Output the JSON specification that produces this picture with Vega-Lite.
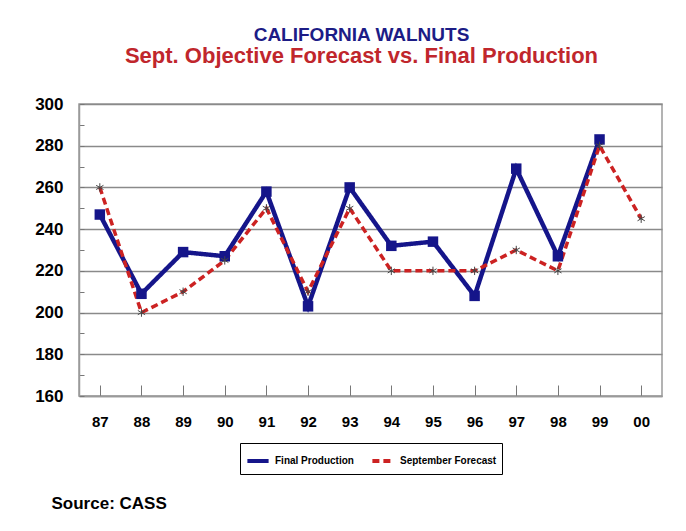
{
  "$schema": "https://vega.github.io/schema/vega-lite/v6.json",
  "width": 583,
  "height": 292,
  "autosize": "none",
  "padding": {"left": 79, "top": 104, "right": 24, "bottom": 135},
  "background": "white",
  "config": {
    "font": "Liberation Sans",
    "view": {"stroke": "#9a9a9a", "strokeWidth": 1.5}
  },
  "title": {
    "text": "CALIFORNIA WALNUTS",
    "subtitle": "Sept. Objective Forecast vs. Final Production",
    "font": "Liberation Sans",
    "fontSize": 19,
    "fontWeight": "bold",
    "color": "#1c1c86",
    "subtitleFont": "Liberation Sans",
    "subtitleFontSize": 22,
    "subtitleFontWeight": "bold",
    "subtitleColor": "#c0262c",
    "subtitlePadding": 1,
    "anchor": "middle",
    "dx": -9,
    "offset": 28
  },
  "data": {
    "values": [
      {"year": "87", "series": "Final Production", "value": 247},
      {"year": "88", "series": "Final Production", "value": 209},
      {"year": "89", "series": "Final Production", "value": 229},
      {"year": "90", "series": "Final Production", "value": 227},
      {"year": "91", "series": "Final Production", "value": 258},
      {"year": "92", "series": "Final Production", "value": 203},
      {"year": "93", "series": "Final Production", "value": 260},
      {"year": "94", "series": "Final Production", "value": 232},
      {"year": "95", "series": "Final Production", "value": 234},
      {"year": "96", "series": "Final Production", "value": 208},
      {"year": "97", "series": "Final Production", "value": 269},
      {"year": "98", "series": "Final Production", "value": 227},
      {"year": "99", "series": "Final Production", "value": 283},
      {"year": "87", "series": "September Forecast", "value": 260},
      {"year": "88", "series": "September Forecast", "value": 200},
      {"year": "89", "series": "September Forecast", "value": 210},
      {"year": "90", "series": "September Forecast", "value": 225},
      {"year": "91", "series": "September Forecast", "value": 250},
      {"year": "92", "series": "September Forecast", "value": 210},
      {"year": "93", "series": "September Forecast", "value": 250},
      {"year": "94", "series": "September Forecast", "value": 220},
      {"year": "95", "series": "September Forecast", "value": 220},
      {"year": "96", "series": "September Forecast", "value": 220},
      {"year": "97", "series": "September Forecast", "value": 230},
      {"year": "98", "series": "September Forecast", "value": 220},
      {"year": "99", "series": "September Forecast", "value": 280},
      {"year": "00", "series": "September Forecast", "value": 245}
    ]
  },
  "encoding": {
    "x": {
      "field": "year",
      "type": "ordinal",
      "sort": ["87","88","89","90","91","92","93","94","95","96","97","98","99","00"],
      "scale": {"type": "point", "padding": 0.5},
      "axis": {
        "title": "Source:  CASS",
        "titleFont": "Liberation Sans",
        "titleFontSize": 17,
        "titleFontWeight": "bold",
        "titleColor": "black",
        "titleAlign": "left",
        "titleBaseline": "alphabetic",
        "titleX": -28,
        "titleY": 112,
        "labelAngle": 0,
        "labelFont": "Liberation Sans",
        "labelFontSize": 15,
        "labelFontWeight": "bold",
        "labelColor": "black",
        "labelPadding": 29,
        "tickSize": -11,
        "tickColor": "#777",
        "tickWidth": 1,
        "domainColor": "#9a9a9a",
        "domainWidth": 1.5,
        "grid": false
      }
    },
    "y": {
      "field": "value",
      "type": "quantitative",
      "scale": {"domain": [160, 300], "nice": false, "zero": false},
      "axis": {
        "title": null,
        "values": [160,170,180,190,200,210,220,230,240,250,260,270,280,290,300],
        "labelExpr": "datum.value % 20 == 0 ? datum.label : ''",
        "labelFont": "Liberation Sans",
        "labelFontSize": 17,
        "labelFontWeight": "bold",
        "labelColor": "black",
        "labelPadding": 21,
        "tickSize": -5,
        "tickColor": "#777",
        "tickWidth": 1,
        "domainColor": "#9a9a9a",
        "domainWidth": 1.5,
        "grid": true,
        "gridColor": {"condition": {"test": "datum.value % 20 == 0", "value": "#8a8a8a"}, "value": "transparent"},
        "gridWidth": 1.5
      }
    }
  },
  "layer": [
    {
      "transform": [{"filter": "datum.series == 'Final Production'"}],
      "mark": {"type": "line", "strokeWidth": 4.5, "strokeJoin": "miter"},
      "encoding": {
        "color": {
          "field": "series",
          "type": "nominal",
          "scale": {"domain": ["Final Production", "September Forecast"], "range": ["#15158a", "#cc2222"]},
          "legend": {
            "title": null,
            "orient": "none",
            "legendX": 161,
            "legendY": 339,
            "direction": "horizontal",
            "strokeColor": "black",
            "padding": 5,
            "labelFont": "Liberation Sans",
            "labelFontSize": 10,
            "labelFontWeight": "bold",
            "labelColor": "black",
            "symbolType": "stroke",
            "symbolStrokeWidth": 4,
            "symbolSize": 450,
            "columnPadding": 10
          }
        },
        "strokeDash": {
          "field": "series",
          "type": "nominal",
          "scale": {"domain": ["Final Production", "September Forecast"], "range": [[1, 0], [7, 4]]},
          "legend": null
        }
      }
    },
    {
      "transform": [{"filter": "datum.series == 'September Forecast'"}],
      "mark": {"type": "line", "strokeWidth": 3.5},
      "encoding": {
        "color": {"field": "series", "type": "nominal"},
        "strokeDash": {"field": "series", "type": "nominal"}
      }
    },
    {
      "transform": [{"filter": "datum.series == 'Final Production'"}],
      "mark": {"type": "point", "shape": "square", "filled": true, "size": 110, "color": "#15158a", "opacity": 1}
    },
    {
      "transform": [{"filter": "datum.series == 'September Forecast'"}],
      "mark": {"type": "point", "shape": "M0,-1L0,1M-0.87,-0.5L0.87,0.5M-0.87,0.5L0.87,-0.5", "filled": false, "size": 70, "color": "#444", "strokeWidth": 1, "opacity": 1}
    }
  ]
}
